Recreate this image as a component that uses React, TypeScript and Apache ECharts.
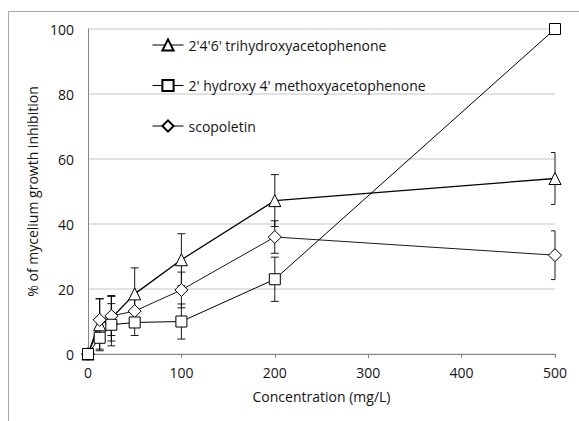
import React, { useEffect, useRef } from "react";
import * as echarts from "echarts";

const concentrations = [0, 12.5, 25, 50, 100, 200, 500];
const triName = "2'4'6' trihydroxyacetophenone";
const sqName = "2' hydroxy 4' methoxyacetophenone";
const diaName = "scopoletin";
const triValues = [0, 9, 11, 18.5, 29, 47.2, 54];
const triErrors = [0, 8, 7, 8, 8, 8, 8];
const sqValues = [0, 5, 9, 9.7, 10, 23, 100];
const sqErrors = [0, 3.5, 6.5, 4, 5.4, 6.8, 0];
const diaValues = [0, 10.5, 11.7, 13.2, 19.7, 36, 30.4];
const diaErrors = [0, 6.5, 6, 5, 5.5, 5, 7.5];

const FONT = "'Open Sans', 'Noto Sans', sans-serif";
const TEXT = "#141414";
const FS = 14;

function errorSeries(name: string, values: number[], errors: number[]) {
  return {
    type: "custom",
    name: name + " err",
    z: 1,
    silent: true,
    data: concentrations
      .map((c, i) => [c, values[i] - errors[i], values[i] + errors[i]])
      .filter((_, i) => errors[i] > 0),
    renderItem: (params: any, api: any) => {
      const x = api.value(0);
      const lo = api.coord([x, api.value(1)]);
      const hi = api.coord([x, api.value(2)]);
      const right = api.coord([500, 0])[0];
      const half = 4;
      const r = Math.min(lo[0] + half, right);
      const style = { stroke: "#000", lineWidth: 0.9 };
      return {
        type: "group",
        children: [
          { type: "line", shape: { x1: lo[0], y1: lo[1], x2: hi[0], y2: hi[1] }, style },
          { type: "line", shape: { x1: lo[0] - half, y1: lo[1], x2: r, y2: lo[1] }, style },
          { type: "line", shape: { x1: hi[0] - half, y1: hi[1], x2: r, y2: hi[1] }, style },
        ],
      };
    },
  };
}

function lineSeries(name: string, values: number[], symbol: string, size: number, width: number) {
  return {
    type: "line",
    name,
    z: 3,
    data: concentrations.map((c, i) => [c, values[i]]),
    symbol,
    symbolSize: size,
    showAllSymbol: true,
    lineStyle: { color: "#000", width },
    itemStyle: { color: "#fff", borderColor: "#000", borderWidth: 1 },
    emphasis: { disabled: true },
  };
}

export default function App() {
  const ref = useRef<HTMLDivElement>(null);
  useEffect(() => {
    if (!ref.current) return;
    const chart = echarts.init(ref.current, null, { renderer: "svg" });
    chart.setOption({
      animation: false,
      backgroundColor: "#fff",
      textStyle: { fontFamily: FONT },
      graphic: [
        {
          type: "rect",
          shape: { x: 0.5, y: 0.5, width: 700, height: 600 },
          x: 8,
          y: 11,
          style: { fill: "none", stroke: "#a6a6a6", lineWidth: 1 },
          silent: true,
        },
      ],
      grid: { left: 88, right: 24, top: 29, bottom: 67, containLabel: false },
      legend: {
        data: [triName, sqName, diaName],
        orient: "vertical",
        left: 152,
        top: 38,
        padding: 0,
        itemWidth: 31,
        itemHeight: 14,
        itemGap: 26.5,
        lineStyle: { width: 1 },
        textStyle: { fontSize: FS, color: TEXT, fontFamily: FONT },
        selectedMode: false,
      },
      xAxis: {
        type: "value",
        min: 0,
        max: 500,
        interval: 100,
        name: "Concentration (mg/L)",
        nameLocation: "middle",
        nameGap: 35,
        nameTextStyle: { fontSize: FS, color: TEXT, fontFamily: FONT },
        axisLine: { lineStyle: { color: "#868686", width: 1 } },
        axisTick: { show: true, length: 4, lineStyle: { color: "#868686" } },
        axisLabel: { fontSize: FS, color: TEXT, margin: 11, fontFamily: FONT },
        splitLine: { show: false },
      },
      yAxis: {
        type: "value",
        min: 0,
        max: 100,
        interval: 20,
        name: "% of mycelium growth inhibition",
        nameLocation: "middle",
        nameGap: 42,
        nameTextStyle: { fontSize: FS, color: TEXT, fontFamily: FONT },
        axisLine: { show: true, lineStyle: { color: "#868686", width: 1 } },
        axisTick: { show: false },
        axisLabel: { fontSize: FS, color: TEXT, margin: 14, fontFamily: FONT },
        splitLine: { show: true, lineStyle: { color: "#d9d9d9", width: 1.5 } },
      },
      series: [
        errorSeries(triName, triValues, triErrors),
        errorSeries(sqName, sqValues, sqErrors),
        errorSeries(diaName, diaValues, diaErrors),
        lineSeries(triName, triValues, "triangle", 12, 1.3),
        lineSeries(diaName, diaValues, "diamond", 13, 0.9),
        lineSeries(sqName, sqValues, "rect", 11, 1),
      ],
    });
    return () => chart.dispose();
  }, []);
  return <div ref={ref} style={{ width: 579, height: 421, position: "absolute", left: 0, top: 0 }} />;
}
